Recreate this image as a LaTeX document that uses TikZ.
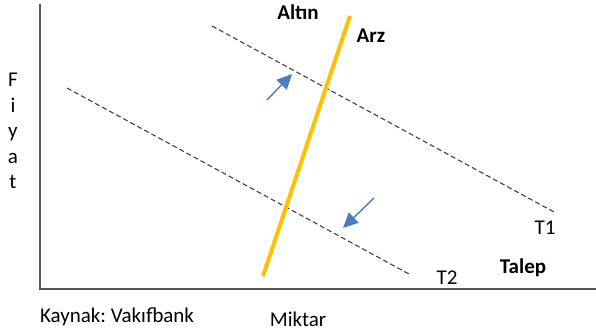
\documentclass[tikz,border=0pt]{standalone}
\usepackage{fontspec}
\setmainfont{Carlito}
\usetikzlibrary{arrows.meta}
\definecolor{axisgray}{HTML}{595959}
\definecolor{dashgray}{HTML}{404040}
\definecolor{supply}{HTML}{FFC000}
\definecolor{shiftblue}{HTML}{4A7EBB}
\tikzset{
  lbl/.style={inner sep=0pt, font=\fontsize{21}{25}\selectfont},
  blbl/.style={lbl, font=\fontsize{21}{25}\selectfont\bfseries},
  axis/.style={draw=axisgray, line width=1.5pt},
  demand/.style={draw=dashgray, line width=1.1pt, dash pattern=on 5pt off 3pt},
  arzline/.style={draw=supply, line width=4pt},
  shiftarrow/.style={draw=shiftblue, line width=1.4pt, -{Triangle[length=15pt,width=14pt]}}
}
\begin{document}
\begin{tikzpicture}[x=1pt,y=-1pt]
\useasboundingbox (0,0) rectangle (596,334);
% axes
\coordinate (top) at (40,4);
\coordinate (origin) at (40,289);
\coordinate (right) at (596,289);
\draw[axis] (top) -- (origin) -- (right);
% demand curves
\coordinate (t1a) at (212,26);
\coordinate (t1b) at (554,212);
\coordinate (t2a) at (67,88);
\coordinate (t2b) at (409,274);
\draw[demand] (t1a) -- (t1b);
\draw[demand] (t2a) -- (t2b);
% supply
\coordinate (sa) at (263,276);
\coordinate (sb) at (350,16);
\draw[arzline] (sa) -- (sb);
% shift arrows
\coordinate (u1) at (267,100);
\coordinate (u2) at (292,74);
\coordinate (d1) at (374,198);
\coordinate (d2) at (343,228);
\draw[shiftarrow] (u1) -- (u2);
\draw[shiftarrow] (d1) -- (d2);
% labels
\node[blbl] (altin) at (298,12) {Altın};
\node[blbl] (arz) at (371,36) {Arz};
\node[lbl] (T1) at (545,228) {T1};
\node[lbl] (T2) at (447,278) {T2};
\node[blbl] (talep) at (523,268) {Talep};
\node[lbl] (miktar) at (298,319) {Miktar};
\node[lbl] (kaynak) at (117,317) {\frenchspacing Kaynak: Vakıfbank};
\node[lbl, align=center, font=\fontsize{21}{25.5}\selectfont] (fiyat) at (13,131) {F\\i\\y\\a\\t};
\end{tikzpicture}
\end{document}
